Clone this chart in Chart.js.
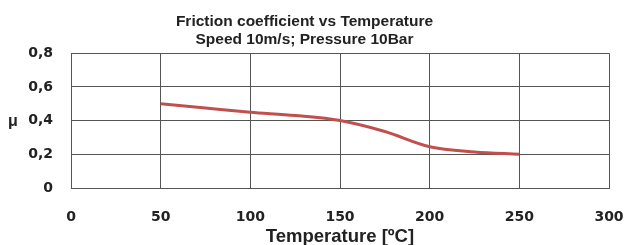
<!DOCTYPE html>
<html>
<head>
<meta charset="utf-8">
<script src="https://cdn.jsdelivr.net/npm/chart.js@4"></script>
<style>
  html, body { margin: 0; padding: 0; background: #fff; }
  #wrap { width: 626px; height: 245px; }
</style>
</head>
<body>
<div id="wrap"><canvas id="frictionChart"></canvas></div>
<script>
// Friction coefficient vs temperature
const temperatures = [50, 75, 100, 125, 150, 175, 200, 225, 250];
const frictionValues = [0.50, 0.475, 0.45, 0.43, 0.40, 0.335, 0.245, 0.214, 0.20];
const titleLines = ['Friction coefficient vs Temperature', 'Speed 10m/s; Pressure 10Bar'];
const xAxisTitle = 'Temperature [ºC]';
const yAxisLabel = 'μ';

const textFont = '"Liberation Sans", Arial, sans-serif';
const tickFont = '"DejaVu Sans", sans-serif';
Chart.defaults.color = '#222';

// horizontal "μ" next to the y axis
const muLabel = {
    id: 'muLabel',
    afterDraw(chart) {
        const c = chart.ctx;
        const area = chart.chartArea;
        c.save();
        c.font = 'bold 16px ' + textFont;
        c.fillStyle = '#222';
        c.textAlign = 'center';
        c.textBaseline = 'middle';
        c.fillText(yAxisLabel, 13, (area.top + area.bottom) / 2 + 1);
        c.restore();
    }
};

const ctx = document.getElementById('frictionChart').getContext('2d');
new Chart(ctx, {
    type: 'line',
    data: {
        datasets: [{
            data: temperatures.map((t, i) => ({ x: t, y: frictionValues[i] })),
            borderColor: '#c0504d',
            borderWidth: 3,
            pointRadius: 0,
            cubicInterpolationMode: 'monotone',
            fill: false
        }]
    },
    options: {
        responsive: true,
        maintainAspectRatio: false,
        animation: false,
        layout: { padding: { left: 0, right: 17, top: 0, bottom: 0 } },
        scales: {
            x: {
                type: 'linear',
                min: 0,
                max: 300,
                border: { color: '#555', width: 1 },
                grid: { color: '#555', drawTicks: false },
                ticks: {
                    stepSize: 50,
                    padding: 21,
                    color: '#222',
                    font: { family: tickFont, size: 14, weight: 'bold' }
                },
                title: {
                    display: true,
                    text: xAxisTitle,
                    color: '#222',
                    padding: { top: 2, bottom: -1 },
                    font: { family: textFont, size: 18.5, weight: 'bold', lineHeight: 1 }
                },
                afterFit(scale) {
                    scale.height = 57;
                    scale.paddingLeft = 0;
                    scale.paddingRight = 0;
                }
            },
            y: {
                min: 0,
                max: 0.8,
                border: { color: '#555', width: 1 },
                grid: { color: '#555', drawTicks: false },
                ticks: {
                    stepSize: 0.2,
                    padding: 18,
                    color: '#222',
                    font: { family: tickFont, size: 14, weight: 'bold' },
                    callback: function(value) {
                        return value === 0 ? '0' : value.toFixed(1).replace('.', ',');
                    }
                },
                afterFit(scale) {
                    scale.width = 71;
                    scale.paddingTop = 0;
                    scale.paddingBottom = 0;
                }
            }
        },
        plugins: {
            legend: { display: false },
            tooltip: { enabled: false },
            title: {
                display: true,
                text: titleLines,
                color: '#222',
                font: { family: textFont, size: 15.5, weight: 'bold', lineHeight: 1.2 },
                padding: { top: 12, bottom: 4 }
            }
        }
    },
    plugins: [muLabel]
});
</script>
</body>
</html>
